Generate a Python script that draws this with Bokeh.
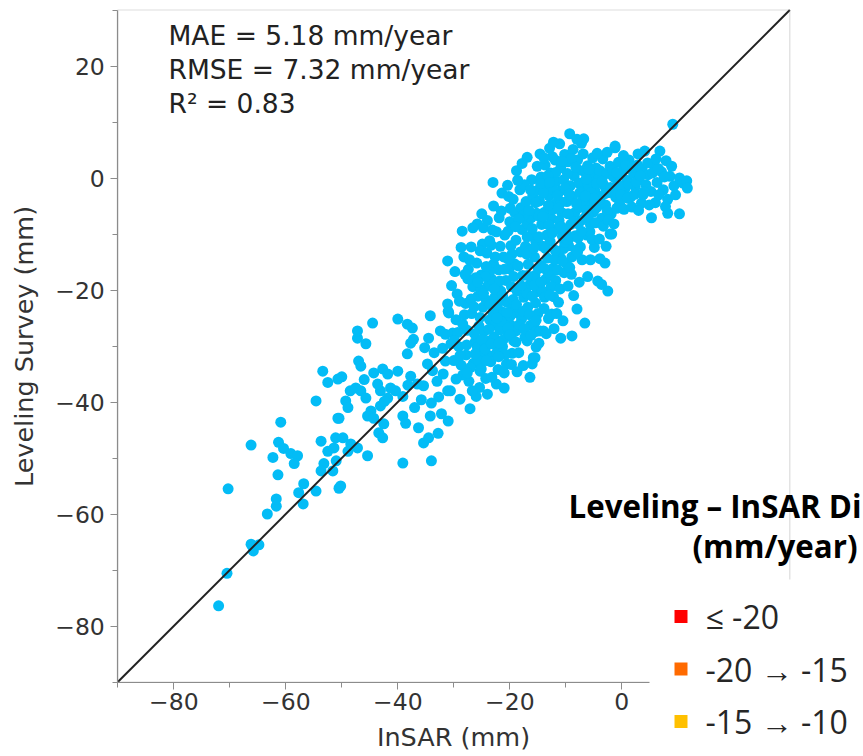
from bokeh.plotting import figure
from bokeh.models import Label, BoxAnnotation, FixedTicker, Range1d, LinearAxis
from bokeh.embed import file_html
from bokeh.resources import INLINE

# ---------------- data ----------------
insar_mm = [
    # lower tail
    -72.0, -70.5, -65.8, -66.2, -64.8, -70.3, -63.3, -61.7, -61.7, -61.4, -60.9, -66.2, -61.3, -60.4,
    -62.3, -59.1, -57.9, -58.5, -56.8, -57.7, -56.9, -54.6, -50.5, -54.6, -50.7, -53.7, -52.5, -53.2,
    -53.7, -51.4, -51.0, -50.2, -51.6, -52.5, -50.0, -48.5, -46.0, -53.4,
    # -52 .. -31
    -40.0, -38.3, -37.4, -34.2, -47.2, -45.7, -47.0, -46.6, -37.2, -37.7, -38.3, -34.5, -32.4, -50.7,
    -44.3, -42.7, -41.8, -40.0, -37.7, -35.4, -34.7, -47.5, -46.6, -45.7, -43.1, -41.8, -40.4, -39.1,
    -49.3, -48.9, -50.5, -44.8, -45.4, -43.1, -39.1, -38.6, -36.3, -34.2, -43.4, -42.7, -51.1, -49.8,
    -47.2, -45.4, -35.4, -34.5, -39.1, -31.0, -32.0, -43.6, -41.3, -42.4, -44.3, -42.5, -48.4, -48.9,
    -31.9, -31.1, -31.0, -34.0, -47.2, -44.5, -33.5, -33.0, -32.7, -34.0, -32.2, -35.8, -36.5, -33.8,
    -35.2, -32.8, -37.0, -38.2,
    # -31 .. -15 (edges)
    -21.4, -22.9, -19.9, -28.5, -25.8, -24.7, -24.0, -20.3, -24.9, -25.3, -31.1, -27.4, -29.4, -31.1,
    -30.9, -31.5, -30.2, -31.5, -30.6, -25.3, -23.5, -19.6, -16.9, -15.8, -16.0,
    # -31 .. -24 (core)
    -30.4, -29.6, -29.1, -28.7, -28.2, -27.9, -27.6, -27.8, -27.3, -26.9, -26.6, -26.8, -26.2, -26.5,
    -25.9, -25.7, -25.5, -25.8, -25.4, -25.1, -24.8, -24.6, -24.9, -24.3, -29.8, -30.5, -28.9, -27.1,
    -26.0,
    # -24 .. -19
    -24.1, -23.9, -24.2, -23.6, -23.8, -23.4, -23.1, -22.9, -23.2, -22.7, -22.5, -22.8, -22.3, -22.1,
    -21.9, -21.7, -22.0, -21.6, -21.4, -21.8, -21.3, -20.9, -21.1, -20.7, -20.6, -20.9, -20.4, -20.6,
    -20.2, -20.0, -19.8, -20.1, -19.7, -19.5, -19.9, -19.3, -22.4, -21.0, -23.0,
    # -19 .. -15
    -19.1, -18.9, -19.2, -18.7, -18.6, -18.9, -18.4, -18.2, -18.0, -17.8, -18.1, -17.7, -17.5, -17.9,
    -17.3, -17.1, -16.9, -17.2, -16.7, -16.6, -16.8, -16.3, -16.1, -15.9, -16.2, -15.8, -15.6, -16.0,
    -15.4, -15.7, -15.3, -15.1, -15.0, -15.2, -15.5, -15.1, -15.0, -15.3, -17.6, -16.4, -18.8,
    # -15 .. -10
    -14.6, -14.4, -14.7, -14.3, -14.1, -14.5, -14.2, -13.9, -14.0, -13.7, -13.5, -13.8, -13.4, -13.3,
    -13.6, -13.1, -12.9, -12.7, -13.0, -12.6, -12.8, -12.4, -12.8, -12.2, -12.5, -11.9, -11.7, -12.0,
    -11.6, -11.4, -11.8, -11.3, -11.1, -10.9, -11.0, -10.7, -10.6, -10.9, -10.5, -10.3, -10.2, -10.4,
    # -10 .. -5
    -9.3, -9.6, -9.2, -9.8, -9.1, -9.5, -9.0, -8.9, -8.7, -8.5, -8.8, -8.4, -8.3, -8.6,
    -8.0, -7.9, -7.7, -7.6, -7.8, -7.4, -7.2, -7.0, -6.9, -6.8, -6.6, -6.6, -6.3, -6.1,
    -6.0, -5.8, -5.6, -5.4, -5.2, -5.1, -9.9, -7.1,
    # -5 .. 0
    -4.8, -4.6, -4.4, -4.3, -4.1, -3.9, -3.8, -3.6, -3.0, -3.4, -3.2, -2.9, -2.7, -2.5,
    -2.1, -2.1, -2.3, -1.9, -1.8, -1.5, -1.2, -1.2, -1.1, -0.8, -0.6, -0.4, -3.6, -4.9,
    # 0 .. 12
    0.2, 0.5, 0.9, 1.3, 1.6, 2.1, 2.4, 2.8, 3.1, 3.6, 4.1, 4.3, 4.7, 5.3,
    5.2, 5.8, 6.3, 6.8, 7.1, 7.4, 7.9, 8.2, 8.2, 8.6, 9.1, 9.3, 10.3, 10.3,
    10.9, 11.6, 11.7, 6.0, 3.5,
    # extra right-side points
    -12.8, -9.3, -14.2, -12.8, -14.6, -15.5,
    # dense core, second pass
    -29.0, -28.4, -27.7, -27.0, -26.3, -25.6, -25.0, -24.4, -23.7, -23.0, -22.6, -22.2, -21.5, -21.2,
    -20.8, -20.3, -19.9, -19.4, -18.8, -18.3, -17.6, -17.0, -16.5, -16.0, -15.6, -14.9, -14.4, -13.8,
    -13.2, -12.6, -12.0, -11.5, -11.0, -10.4, -10.0, -9.6, -9.4, -8.9, -8.2, -7.8, -7.3, -6.7,
    -6.4, -5.9, -5.5, -4.9, -4.5, -4.0, -3.5, -3.0, -2.6, -2.0, -1.6, -1.0, -0.5, 0.0,
    0.7, 1.2, 1.9, 2.6, 3.3, 4.0, 4.6, 5.5, 6.5, 7.6,
    -13.0, -12.3, -12.2, -11.2, -10.8, -10.1, -9.7, -9.0, -8.2, -7.5, -7.0, -6.2, -5.7, -5.0,
    -11.8, -12.4, -13.2, -14.0, -14.8, -15.4, -16.4, -16.9, -17.5, -18.4, -19.0, -19.6, -20.3, -21.0,
    -21.8, -22.6, -23.3, -23.6, -24.4, -25.2, -26.1, -26.9, -27.5, -28.1, -29.3, -30.0, -28.4, -29.6,
    -26.7, -24.0,
    # dense core, third pass (upper cluster)
    -17.4, -16.6, -16.0, -15.4, -14.8, -14.1, -13.6, -13.1, -12.4, -11.9, -11.3, -10.8, -10.2, -17.0,
    -16.3, -15.7, -14.5, -13.9, -12.9, -11.5, -10.6, -9.8, -9.4, -8.6, -8.1, -7.9, -7.2, -6.5,
    -6.0, -5.3, -4.7, -4.0, -3.3, -2.8, -2.4, -1.4, -0.9, -0.2, 0.4, 1.0, 1.8, 2.3,
    3.0, 3.8, 4.9, 6.6, 7.8, 9.6, 8.9, 6.1, 2.9, 0.3, -0.9, -2.6, -4.4, -6.8,
    -8.0, -10.7, -12.2, -13.9, -12.9, -11.6, -13.5, -9.6, -7.6, -10.9, -12.1, -5.6, -6.1, -3.9,
    # dense core, third pass (lower cluster)
    -28.7, -28.0, -27.2, -26.4, -25.7, -25.3, -24.7, -24.2, -23.5, -23.3, -22.8, -22.3, -21.9, -21.3,
    -20.5, -20.0, -19.3, -18.9, -18.5, -18.0, -17.4, -16.9, -16.2, -15.3, -14.8, -29.9, -28.9, -27.6,
    -26.2, -25.1, -24.2, -23.2, -22.0, -21.0, -19.7, -18.7, -26.6, -25.0, -23.6, -22.4, -21.5, -20.4,
    -19.4, -18.6, -17.8, -16.9,
]

leveling_mm = [
    # lower tail
    -76.4, -70.6, -66.6, -65.4, -65.5, -55.5, -60.0, -58.6, -57.3, -53.0, -43.6, -47.7, -47.2, -48.3,
    -49.9, -49.2, -49.6, -51.0, -54.6, -56.2, -58.2, -55.9, -55.4, -39.8, -42.9, -47.0, -48.8, -51.0,
    -52.3, -48.2, -50.5, -55.0, -52.3, -36.5, -35.5, -38.0, -36.0, -34.5,
    # -52 .. -31
    -25.2, -26.1, -26.8, -24.6, -28.6, -29.6, -32.7, -33.6, -28.8, -29.5, -31.4, -28.6, -27.3, -35.9,
    -34.8, -34.1, -35.0, -34.5, -35.4, -37.1, -33.2, -37.5, -38.0, -39.3, -38.0, -39.3, -38.0, -39.0,
    -39.8, -41.0, -42.9, -41.6, -42.5, -40.7, -42.5, -43.8, -44.6, -42.5, -45.5, -46.4, -46.4, -46.4,
    -48.2, -49.6, -47.3, -46.4, -50.9, -23.8, -30.4, -36.8, -37.5, -39.9, -42.9, -43.9, -47.5, -48.8,
    -35.0, -38.0, -43.4, -50.5, -27.3, -25.9, -31.2, -36.3, -39.1, -40.2, -42.1, -39.6, -36.8, -34.4,
    -30.3, -45.6, -41.0, -37.0,
    # -31 .. -15 (edges)
    -2.7, -5.0, -5.4, -9.5, -8.2, -8.9, -7.6, -9.5, -11.8, -13.0, -14.8, -16.3, -20.7, -22.5,
    -24.1, -27.9, -27.7, -32.7, -38.0, -34.5, -31.8, -31.3, -29.1, -32.1, -33.2,
    # -31 .. -24 (core)
    -19.2, -25.3, -30.1, -33.4, -14.1, -22.4, -27.2, -31.6, -36.3, -12.3, -19.4, -24.2, -29.3, -33.1,
    -15.2, -21.1, -26.4, -30.2, -37.4, -17.3, -23.1, -27.4, -31.3, -35.8, -16.7, -29.6, -39.5, -41.2,
    -39.0,
    # -24 .. -19
    -13.4, -19.2, -21.8, -25.3, -29.1, -32.8, -9.3, -15.4, -18.1, -21.3, -26.2, -28.4, -31.2, -34.2,
    -7.1, -12.2, -16.4, -20.2, -23.9, -27.1, -30.1, -10.2, -14.1, -18.3, -22.1, -25.4, -28.2, -33.2,
    -3.3, -7.8, -12.1, -16.2, -19.4, -23.3, -26.2, -29.1, -36.8, -37.5, -0.8,
    # -19 .. -15
    -6.2, -11.1, -15.3, -20.2, -24.1, -27.3, -31.2, -2.1, -5.3, -9.2, -13.2, -17.4, -21.3, -25.2,
    -28.4, -4.2, -8.1, -12.2, -15.4, -19.2, -23.1, -26.3, -0.3, -3.2, -7.1, -10.3, -14.1, -18.2,
    -22.3, -26.1, -30.2, 2.1, -2.2, -6.3, -17.4, -20.3, -24.2, -27.4, -33.5, -35.6, 1.3,
    # -15 .. -10
    4.3, 0.2, -4.1, -8.3, -12.2, -15.6, -20.2, -23.3, -27.3, 2.3, -1.8, -6.1, -10.2, -14.3,
    -18.1, -25.1, 5.3, 0.9, -3.2, -7.2, -11.3, -16.2, -17.1, -21.2, -24.3, 3.2, -0.6, -4.7,
    -9.1, -13.2, -18.3, -22.2, 6.1, 1.8, -2.3, -6.2, -10.4, -14.3, -25.5, -16.9, 4.2, -0.3,
    # -10 .. -5
    7.9, 2.9, -1.4, -4.2, -8.3, -12.1, -17.2, -28.2, 5.1, 0.4, -3.3, -6.2, -10.3, -21.0,
    -23.4, 3.2, -0.9, -5.3, -8.2, -12.3, 6.2, 1.3, 4.3, -2.3, -7.1, -25.9, -10.2, 2.2,
    -1.2, -4.4, -8.3, 0.3, 3.6, -6.1, -15.3, -14.6,
    # -5 .. 0
    -2.3, 1.8, -5.2, -18.4, -0.1, 1.3, -3.4, -7.2, -15.2, 3.4, -1.3, -4.8, 0.8, -20.2,
    2.1, -10.0, -2.6, -6.4, -10.0, 0.2, 5.4, 5.7, -3.4, -1.2, 2.8, -4.6, -19.0, -12.4,
    # 0 .. 12
    1.3, -2.1, -0.4, 3.2, -3.4, 0.8, -1.6, 2.3, -0.2, 1.6, 4.8, -1.2, 0.6, -7.1,
    -2.4, 2.1, -0.8, 4.8, 1.1, -2.1, 3.1, -3.8, -6.3, 0.3, 9.6, -1.4, 0.0, -6.4,
    -0.9, -0.5, -1.8, -4.4, -4.5,
    # extra right-side points
    -17.1, -16.0, -20.2, -24.5, -27.3, -32.1,
    # dense core, second pass
    -22.0, -26.1, -29.8, -33.8, -27.8, -32.6, -28.9, -30.5, -27.0, -24.0, -29.8, -22.6, -25.6, -28.9,
    -31.5, -26.8, -24.6, -21.7, -22.6, -26.2, -23.8, -20.6, -24.4, -21.1, -19.1, -16.2, -18.6, -21.3,
    -16.8, -19.4, -14.6, -16.4, -19.8, -12.6, -9.6, -6.4, -10.8, -14.1, -12.9, -10.7, -7.6, -4.9,
    -0.2, 1.5, -2.6, -5.7, -1.0, -3.9, -0.6, -2.8, -5.9, -1.7, 1.4, -2.4, 0.5, -1.5,
    2.3, -1.1, 1.9, -0.7, 0.4, -2.5, 2.7, 0.9, 1.7, 0.2,
    -8.4, -5.6, -2.1, -7.6, -4.3, -1.8, 0.8, 3.5, 1.9, -2.6, -4.0, -5.8, -9.6, -3.6,
    1.0, 3.8, 0.4, -2.6, -6.8, -11.2, -12.9, -10.5, -6.6, -7.3, -8.7, -13.6, -14.5, -16.3,
    -18.4, -14.1, -12.0, -16.8, -17.6, -20.0, -17.8, -21.6, -18.0, -24.4, -27.6, -32.6, -35.2, -35.9,
    -38.0, -38.6,
    # dense core, third pass (upper cluster)
    -1.2, -5.8, -9.0, -4.4, -10.5, -6.9, -12.6, -4.9, -9.8, -12.9, -5.4, -8.7, -11.5, -13.6,
    -2.1, -12.5, -1.0, 3.6, -0.8, -3.1, -14.8, -11.0, -2.9, -7.8, -4.6, -13.2, -9.5, -3.2,
    -6.9, -11.0, -8.0, -10.9, -8.6, -12.2, -7.5, -8.2, -5.4, -3.0, -5.6, -3.6, -5.2, -2.9,
    -5.8, -3.0, -4.8, -3.0, -5.1, -3.0, 2.1, 3.4, 4.3, 4.0, 1.0, 4.6, 4.4, 7.0,
    6.9, 3.0, 6.4, -16.1, -20.9, -24.2, -27.8, -19.3, -18.6, -28.6, -26.9, -14.6, -17.6, -14.4,
    # dense core, third pass (lower cluster)
    -12.4, -17.2, -14.6, -23.0, -18.6, -24.9, -20.6, -15.8, -22.6, -29.6, -19.8, -25.0, -29.5, -21.0,
    -24.0, -28.0, -17.6, -29.3, -15.7, -19.2, -26.9, -17.4, -28.1, -25.4, -29.5, -29.0, -31.7, -34.8,
    -31.4, -34.1, -32.6, -35.6, -31.9, -34.8, -33.3, -34.6, -8.9, -6.4, -11.2, -9.6, -5.9, -1.3,
    -3.8, -0.4, 2.6, 3.7,
]

major_ticks = [-80, -60, -40, -20, 0, 20]
minor_ticks = [-90, -70, -50, -30, -10, 10, 30]
tick_labels = ["\u221280", "\u221260", "\u221240", "\u221220", "0", "20"]

stats_lines = ["MAE = 5.18 mm/year", "RMSE = 7.32 mm/year", "R\u00b2 = 0.83"]

legend_title = ["Leveling \u2013 InSAR Di", "(mm/year)"]
legend_labels = ["\u2264 -20", "-20 \u2192 -15", "-15 \u2192 -10"]
legend_colors = ["#FF0000", "#FF6A00", "#FFC000"]

# ---------------- layout ----------------
W, H = 863, 756
X0, X1 = -90, 30          # limits of both axes
BOX_L, BOX_T = 117.3, 9.5  # pixel position of the plot box corner
PPU = 5.6                 # pixels per data unit


def fx(px):
    return X0 + (px - BOX_L) / PPU


def fy(py):
    return X1 - (py - BOX_T) / PPU


p = figure(width=W, height=H, output_backend="svg", toolbar_location=None,
           x_range=Range1d(fx(0), fx(W)), y_range=Range1d(fy(H), fy(0)),
           x_axis_location=None, y_axis_location=None,
           min_border=0, min_border_left=0, min_border_right=0,
           min_border_top=0, min_border_bottom=0)
p.grid.visible = False
p.outline_line_color = None

GREY = "#8c8c8c"
xax = LinearAxis(fixed_location=X0, bounds=(X0, X1), axis_label="InSAR (mm)")
yax = LinearAxis(fixed_location=X0, bounds=(X0, X1), axis_label="Leveling Survey (mm)")
for ax in (xax, yax):
    ax.ticker = FixedTicker(ticks=major_ticks, minor_ticks=minor_ticks)
    ax.major_label_overrides = {t: l for t, l in zip(major_ticks, tick_labels)}
    ax.axis_line_color = GREY
    ax.axis_line_width = 1.2
    ax.major_tick_line_color = GREY
    ax.minor_tick_line_color = GREY
    ax.major_tick_in = 0
    ax.major_tick_out = 7
    ax.minor_tick_in = 0
    ax.minor_tick_out = 5
    ax.major_label_text_font = "DejaVu Sans"
    ax.major_label_text_font_size = "23.5px"
    ax.major_label_text_color = "#333333"
    ax.axis_label_text_font = "DejaVu Sans"
    ax.axis_label_text_font_size = "25.5px"
    ax.axis_label_text_font_style = "normal"
    ax.axis_label_text_color = "#333333"
xax.major_label_standoff = 4
xax.axis_label_standoff = 8
yax.major_label_standoff = 6
yax.axis_label_standoff = 13
p.add_layout(xax, "below")
p.add_layout(yax, "left")

p.scatter(insar_mm, leveling_mm, size=11, fill_color="#03BCF6", line_color=None)
p.line([X0, X1], [X0, X1], line_color="#222222", line_width=2)

# plot box outline
p.add_layout(BoxAnnotation(left=X0, right=X1, bottom=X0, top=X1, fill_color=None,
                           line_color=GREY, line_width=1.2))

for t, mid in zip(stats_lines, [34.5, 69.0, 103.0]):
    p.add_layout(Label(x=fx(168), y=fy(mid), text=t, text_font="DejaVu Sans",
                       text_font_size="26.5px", text_color="#222222",
                       text_align="left", text_baseline="middle"))

# legend overlay (cropped map legend)
p.add_layout(Label(x=fx(861), y=fy(505), text=legend_title[0], text_font="Open Sans",
                   text_font_style="bold", text_font_size="31.3px", text_color="#000000",
                   text_align="right", text_baseline="middle"))
p.add_layout(Label(x=fx(857), y=fy(545), text=legend_title[1], text_font="Open Sans",
                   text_font_style="bold", text_font_size="31.3px", text_color="#000000",
                   text_align="right", text_baseline="middle"))
p.add_layout(BoxAnnotation(left=fx(649), right=fx(W + 20), top=fy(579), bottom=fy(H + 20),
                           fill_color="white", fill_alpha=1.0, line_color=None))
for i, (lab, col) in enumerate(zip(legend_labels, legend_colors)):
    cy = 616 + 52.5 * i
    p.add_layout(BoxAnnotation(left=fx(674), right=fx(687), top=fy(cy - 6.5), bottom=fy(cy + 6.5),
                               fill_color=col, fill_alpha=1.0, line_color=None))
    p.add_layout(Label(x=fx(705), y=fy(cy), text=lab, text_font="Open Sans",
                       text_font_size="32px", text_color="#262626",
                       text_align="left", text_baseline="middle"))

open("out.html", "w").write(file_html(p, INLINE))
